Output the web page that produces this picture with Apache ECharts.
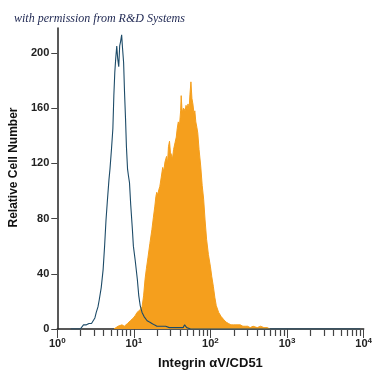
<!DOCTYPE html>
<html>
<head>
<meta charset="utf-8">
<script src="https://cdn.jsdelivr.net/npm/echarts@6/dist/echarts.min.js"></script>
<style>html,body{margin:0;padding:0;background:#fff}#c{width:375px;height:375px}</style>
</head>
<body>
<div id="c"></div>
<script>
// Isotype control (blue outline): [fluorescence, count]
var isotypeData = [[1.5,0],[2.0,0],[2.08,1],[2.2,3],[2.4,3],[2.6,4],[2.8,4],[2.96,5],[3.1,8],[3.23,12],[3.4,16],[3.53,21],[3.75,30],[3.97,43],[4.15,60],[4.33,79],[4.5,92],[4.73,108],[4.88,116],[5.1,130],[5.32,145],[5.48,169],[5.64,186],[5.8,196],[5.98,205],[6.15,196],[6.35,190],[6.53,205],[6.7,208],[6.93,213],[7.1,204],[7.35,193],[7.55,172],[7.79,152],[8.0,132],[8.27,116],[8.5,111],[8.77,106],[9.1,90],[9.57,72],[9.86,60],[10.4,50],[11.1,36],[11.6,24],[12.1,17],[12.8,12],[13.6,9],[14.9,6],[16,5],[17.2,4],[18.5,3],[20,2],[23,2],[26,2],[29,1],[33,1],[38,1],[44,1],[46,3],[49,1],[55,0],[9000,0]];
// Integrin alphaV/CD51 stained (orange filled): [fluorescence, count]
var stainedData = [[5.5,0],[5.81,1],[6.2,2],[6.5,1],[7,3],[7.5,2],[8.27,4],[9.0,6],[9.86,8],[10.5,10],[11.0,12],[11.4,11],[12.1,14],[12.8,16],[13.4,24],[14.0,36],[14.6,44],[15.3,52],[16.2,62],[17.2,72],[18.0,81],[18.8,89],[19.4,96],[19.9,99],[20.5,97],[21.2,101],[21.8,103],[22.8,110],[23.8,117],[24.5,114],[25.5,121],[26.7,125],[27.5,120],[28.3,132],[29.2,136],[30,128],[31.0,126],[31.9,123],[33,130],[34.5,135],[35.8,139],[36.8,145],[38.0,150],[39.5,148],[40.8,158],[41.5,169],[42.7,157],[44.5,160],[46.7,158],[48,162],[49.5,159],[51,163],[52.5,158],[54,170],[55.6,179],[57.3,167],[59,163],[61,156],[62.5,158],[64.4,150],[66.5,146],[68.3,142],[71,130],[74.6,118],[78,104],[81.5,94],[85,79],[89,65],[94,54],[100,45],[104,38],[109,31],[114,23],[119,17],[128,12],[138,9],[148,7],[160,5],[172,4],[185,3],[200,3],[215,3],[227,2],[245,3],[265,2],[285,2],[305,2],[330,1],[360,2],[408,1],[450,2],[500,1],[548,1],[600,0]];
var yTicks = [0,40,80,120,160,200];
var xMajorTicks = [1,10,100,1000,10000];
var xMinorTicks = [2,3,4,5,6,7,8,9,20,30,40,50,60,70,80,90,200,300,400,500,600,700,800,900,2000,3000,4000,5000,6000,7000,8000,9000];
var supMap = {1:'0',10:'1',100:'2',1000:'3',10000:'4'};

var chart = echarts.init(document.getElementById('c'), null, {renderer:'canvas'});
var axisColor = '#222';
var tickColor = '#444';
chart.setOption({
  animation:false,
  backgroundColor:'#fff',
  title:{
    text:'with permission from R&D Systems',
    left:9, top:8,
    textStyle:{fontFamily:'Liberation Serif', fontStyle:'italic', fontWeight:'normal', fontSize:12, color:'#1c2550'}
  },
  grid:{left:55, right:7, top:28, bottom:46, containLabel:false},
  xAxis:{
    type:'log', logBase:10, min:1, max:10000, position:'bottom',
    axisLine:{show:true, onZero:false, lineStyle:{color:axisColor, width:1.5}},
    axisTick:{show:true, customValues:xMajorTicks, length:9, lineStyle:{color:tickColor}},
    axisLabel:{
      show:true, customValues:xMajorTicks, margin:8,
      formatter:function(v){ return '10{s|' + supMap[Math.round(v)] + '}'; },
      fontFamily:'Liberation Sans', fontWeight:'bold', fontSize:11, color:'#222',
      rich:{s:{fontSize:8, fontWeight:'bold', color:'#222', fontFamily:'Liberation Sans', verticalAlign:'top', padding:[0,0,5,0]}}
    },
    name:'Integrin \u03B1V/CD51', nameLocation:'middle', nameGap:28,
    nameTextStyle:{fontFamily:'Liberation Sans', fontWeight:'bold', fontSize:13, color:'#111'},
    splitLine:{show:false}
  },
  yAxis:{
    type:'value', min:0, max:218, interval:40,
    axisLine:{show:true, lineStyle:{color:axisColor, width:1.5}},
    axisTick:{show:true, customValues:yTicks, length:6, lineStyle:{color:tickColor}},
    axisLabel:{customValues:yTicks, margin:8, fontFamily:'Liberation Sans', fontWeight:'bold', fontSize:11, color:'#222'},
    splitLine:{show:false},
    name:'Relative Cell Number', nameLocation:'middle', nameGap:36, nameRotate:90,
    nameTextStyle:{fontFamily:'Liberation Sans', fontWeight:'bold', fontSize:12, color:'#111', padding:[0,0,0,22]}
  },
  series:[{
    type:'line', name:'CD51', data:stainedData, showSymbol:false, smooth:false,
    lineStyle:{color:'#f59f1d', width:1},
    areaStyle:{color:'#f59f1d', opacity:1},
    z:2
  },{
    type:'line', name:'Isotype', data:isotypeData, showSymbol:false, smooth:false,
    lineStyle:{color:'#1d4b68', width:1.1},
    z:3
  }]
});

// minor log ticks (2..9 of each decade), positioned through the chart's own x scale
var minorTickGraphics = xMinorTicks.map(function(v){
  var p = chart.convertToPixel({xAxisIndex:0, yAxisIndex:0}, [v, 0]);
  var x = Math.round(p[0]) + 0.5;
  return {type:'line', silent:true, z:100,
          shape:{x1:x, y1:Math.round(p[1])+1, x2:x, y2:Math.round(p[1])+7},
          style:{stroke:tickColor, lineWidth:1.2}};
});
chart.setOption({graphic:{elements:minorTickGraphics}});
</script>
</body>
</html>
